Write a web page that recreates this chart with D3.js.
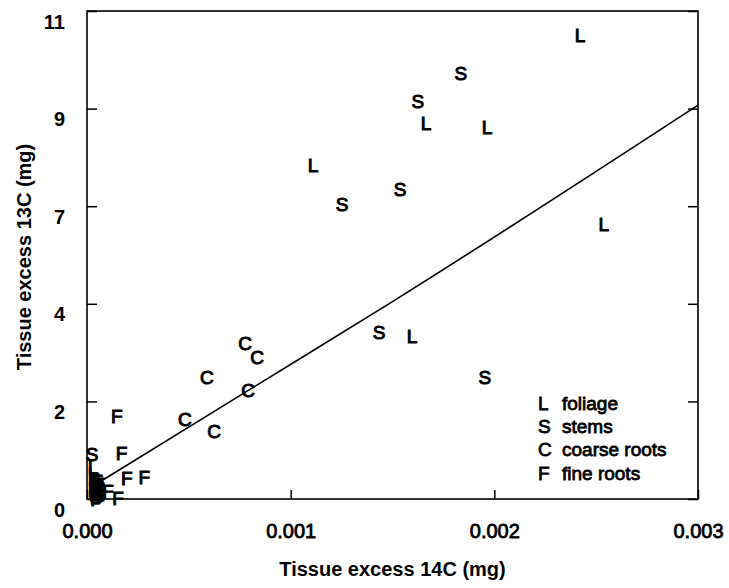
<!DOCTYPE html>
<html>
<head>
<meta charset="utf-8">
<script src="https://cdn.jsdelivr.net/npm/d3@7"></script>
<style>
  body { margin: 0; background: #fff; }
  svg { display: block; }
  text { font-family: "Liberation Sans", Arial, sans-serif; fill: #000; }
</style>
</head>
<body>
<svg id="chart" width="729" height="588"></svg>
<script>
// ---- data ----
const foliageX = [0.002421, 0.001665, 0.001964, 0.001110, 0.002538, 0.001596, 0.000030, 0.000030, 0.000035, 0.000030, 0.000040, 0.000045];
const foliageY = [10.46, 8.47, 8.38, 7.53, 6.20, 3.67, 0.72, 0.55, 0.38, 0.20, 0.05, 0.30];

const stemsX = [0.001836, 0.001625, 0.001537, 0.001252, 0.001434, 0.001954, 0.000025, 0.000040, 0.000045, 0.000050, 0.000060];
const stemsY = [9.60, 8.97, 6.99, 6.65, 3.76, 2.75, 1.01, 0.45, 0.28, 0.12, 0.20];

const coarseX = [0.000776, 0.000835, 0.000589, 0.000791, 0.000481, 0.000624, 0.000040, 0.000050, 0.000045, 0.000055, 0.000060];
const coarseY = [3.52, 3.20, 2.75, 2.46, 1.80, 1.53, 0.35, 0.15, 0.05, 0.30, 0.08];

const fineX = [0.000146, 0.000170, 0.000195, 0.000281, 0.000103, 0.000152, 0.000050, 0.000040, 0.000055, 0.000045, 0.000060];
const fineY = [1.87, 1.03, 0.47, 0.50, 0.18, 0.03, 0.40, 0.10, 0.22, 0.00, 0.33];

// fitted regression line
const fitX = [0.000064, 0.0008, 0.0015, 0.003];
const fitY = [0.39, 2.47, 4.45, 8.88];

const seriesSymbols = ["L", "S", "C", "F"];
const seriesNames = ["foliage", "stems", "coarse roots", "fine roots"];

const xTicks = [0, 0.001, 0.002, 0.003];
const yTicks = [0, 2.2, 4.4, 6.6, 8.8, 11];

const xTitle = "Tissue excess 14C (mg)";
const yTitle = "Tissue excess 13C (mg)";

// ---- drawing ----
const svg = d3.select("#chart");
const mLeft = 87, mRight = 698, mTop = 11, mBottom = 499;

const x = d3.scaleLinear().domain([0, 0.003]).range([mLeft, mRight]);
const y = d3.scaleLinear().domain([0, 11]).range([mBottom, mTop]);

const textStroke = w => g => g.attr("stroke", "#000").attr("stroke-width", w);

// frame
svg.append("rect")
  .attr("x", mLeft).attr("y", mTop)
  .attr("width", mRight - mLeft).attr("height", mBottom - mTop)
  .attr("fill", "none").attr("stroke", "#000").attr("stroke-width", 1.6);

// left axis (inward ticks)
const yAxis = d3.axisLeft(y).tickValues(yTicks).tickSize(-10).tickPadding(22)
  .tickFormat(d3.format(".0f"));
const gy = svg.append("g").attr("transform", `translate(${mLeft},0)`).call(yAxis);
gy.select(".domain").remove();
gy.selectAll(".tick line").attr("stroke", "#000").attr("stroke-width", 1.5);
gy.selectAll(".tick text").attr("font-size", 20).attr("font-weight", "bold")
  .attr("y", 10).attr("dy", "0.35em")
  .style("font-family", "Liberation Sans, Arial, sans-serif");

// right axis mirrored ticks
const yAxisR = d3.axisRight(y).tickValues(yTicks).tickSize(-10).tickFormat("");
const gyr = svg.append("g").attr("transform", `translate(${mRight},0)`).call(yAxisR);
gyr.select(".domain").remove();
gyr.selectAll(".tick line").attr("stroke", "#000").attr("stroke-width", 1.5);

// bottom axis
const xAxis = d3.axisBottom(x).tickValues(xTicks).tickSize(-9).tickPadding(25)
  .tickFormat(d3.format(".3f"));
const gx = svg.append("g").attr("transform", `translate(0,${mBottom})`).call(xAxis);
gx.select(".domain").remove();
gx.selectAll(".tick line").attr("stroke", "#000").attr("stroke-width", 1.5);
gx.selectAll(".tick text").attr("font-size", 20)
  .style("font-family", "Liberation Sans, Arial, sans-serif").call(textStroke(0.8));

// axis titles
svg.append("text")
  .attr("x", (mLeft + mRight) / 2).attr("y", 576)
  .attr("text-anchor", "middle").attr("font-size", 20).attr("font-weight", "bold")
  .text(xTitle);
svg.append("text")
  .attr("transform", `translate(31,${(mTop + mBottom) / 2 + 2}) rotate(-90)`)
  .attr("text-anchor", "middle").attr("font-size", 20).attr("font-weight", "bold")
  .text(yTitle);

// regression line
const line = d3.line().x((d, i) => x(fitX[i])).y((d, i) => y(fitY[i])).curve(d3.curveMonotoneX);
svg.append("path").datum(fitX).attr("d", line)
  .attr("fill", "none").attr("stroke", "#000").attr("stroke-width", 1.6);

// letter markers
const series = [
  { sym: seriesSymbols[0], xs: foliageX, ys: foliageY },
  { sym: seriesSymbols[1], xs: stemsX, ys: stemsY },
  { sym: seriesSymbols[2], xs: coarseX, ys: coarseY },
  { sym: seriesSymbols[3], xs: fineX, ys: fineY }
];
series.forEach(s => {
  svg.append("g").selectAll("text")
    .data(s.xs.map((v, i) => [v, s.ys[i]]))
    .join("text")
    .attr("x", d => x(d[0])).attr("y", d => y(d[1]))
    .attr("dy", "0.36em")
    .attr("text-anchor", "middle")
    .attr("font-size", 19)
    .text(s.sym)
    .call(textStroke(1));
});

// legend
const lg = svg.append("g");
seriesSymbols.forEach((sym, i) => {
  const cy = 403 + i * 23.3;
  lg.append("text").attr("x", 538).attr("y", cy).attr("dy", "0.36em")
    .attr("font-size", 19).text(sym).call(textStroke(0.8));
  lg.append("text").attr("x", 562).attr("y", cy).attr("dy", "0.36em")
    .attr("font-size", 19).text(seriesNames[i]).call(textStroke(0.8));
});
</script>
</body>
</html>
